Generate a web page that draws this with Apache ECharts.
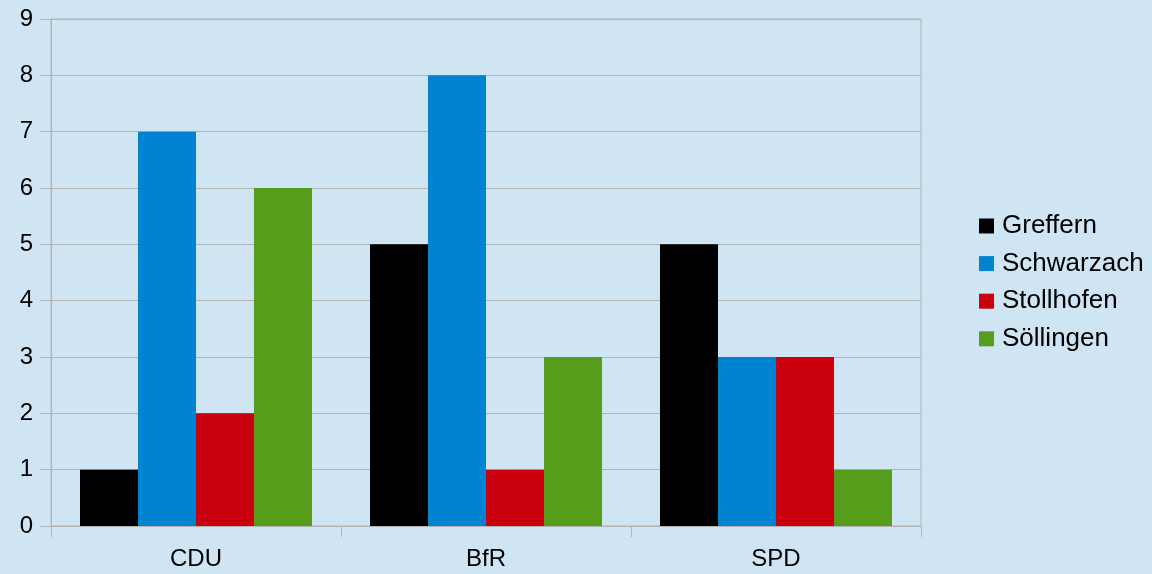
<!DOCTYPE html>
<html>
<head>
<meta charset="utf-8">
<script src="https://cdn.jsdelivr.net/npm/echarts@6/dist/echarts.min.js"></script>
<style>
  html, body { margin: 0; padding: 0; background: #cfe5f3; }
  #chart { width: 1152px; height: 574px; }
</style>
</head>
<body>
<div id="chart"></div>
<script>
var categories = ["CDU", "BfR", "SPD"];
var greffern = [1, 5, 5];
var schwarzach = [7, 8, 3];
var stollhofen = [2, 1, 3];
var soellingen = [6, 3, 1];
var yTicks = [0, 9, 1]; // min, max, interval

var gridColor = "#b3b3b3";
var font = "Liberation Sans";

function bar(name, data, color) {
  return {
    name: name,
    type: "bar",
    data: data,
    barGap: "0%",
    barCategoryGap: "20%",
    itemStyle: { color: color },
    emphasis: { disabled: true }
  };
}

var chart = echarts.init(document.getElementById("chart"));
chart.setOption({
  backgroundColor: "#cfe5f3",
  animation: false,
  textStyle: { fontFamily: font },
  grid: {
    left: 51,
    right: 231,
    top: 19,
    bottom: 48,
    show: true,
    borderColor: gridColor,
    borderWidth: 1,
    backgroundColor: "transparent"
  },
  legend: {
    orient: "vertical",
    left: 974,
    top: 208,
    icon: "rect",
    itemWidth: 15,
    itemHeight: 15,
    itemGap: 11.6,
    textStyle: { fontSize: 26, color: "#000", fontFamily: font, padding: [0, 0, 0, 3] },
    data: ["Greffern", "Schwarzach", "Stollhofen", "Söllingen"]
  },
  xAxis: {
    type: "category",
    data: categories,
    axisLine: { show: true, lineStyle: { color: gridColor, width: 1 } },
    axisTick: { show: true, length: 11, interval: 0, lineStyle: { color: gridColor } },
    axisLabel: { fontSize: 24, color: "#000", margin: 21, fontFamily: font },
    splitLine: { show: false }
  },
  yAxis: {
    type: "value",
    min: yTicks[0],
    max: yTicks[1],
    interval: yTicks[2],
    axisLine: { show: true, lineStyle: { color: gridColor, width: 1 } },
    axisTick: { show: true, length: 11, lineStyle: { color: gridColor } },
    axisLabel: { fontSize: 24, color: "#000", margin: 18, fontFamily: font },
    splitLine: { show: true, lineStyle: { color: gridColor, width: 1 } }
  },
  series: [
    bar("Greffern", greffern, "#000000"),
    bar("Schwarzach", schwarzach, "#0083d1"),
    bar("Stollhofen", stollhofen, "#c9000e"),
    bar("Söllingen", soellingen, "#579d1c")
  ]
});
</script>
</body>
</html>
